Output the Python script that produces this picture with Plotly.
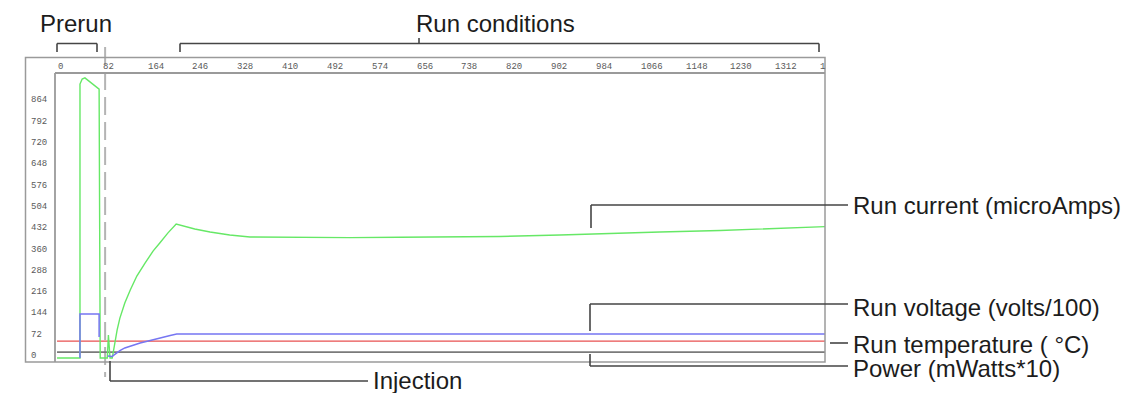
import plotly.graph_objects as go

# ---------------- data ----------------
time_current = [0, 42, 42, 46, 51, 77, 79, 92, 94, 97, 101, 104, 110, 115, 124, 134, 146, 161, 176,
                188, 203, 218, 252, 280, 316, 353, 445, 536, 627, 719, 810, 920, 993, 1103, 1213, 1323, 1405]
run_current = [0, 0, 926, 943, 947, 909, 0, 0, 78, 0, 0, 37, 95, 135, 186, 230, 277, 321, 362,
               389, 423, 453, 436, 426, 416, 409, 407, 407, 408, 409, 411, 416, 419, 426, 431, 438, 444]

time_voltage = [42, 42, 77, 77, None, 93, 101, 104, 110, 115, 124, 139, 152, 165, 179, 194, 207, 219, 1405]
run_voltage = [0, 149, 149, 71, None, 7, 5, 10, 19, 25, 34, 44, 51, 57, 64, 71, 76, 81, 81]

time_temperature = [0, 1405]
run_temperature = [57, 57]

time_power = [0, 1405]
power = [20, 20]

x_tick_values = [0, 82, 164, 246, 328, 410, 492, 574, 656, 738, 820, 902, 984, 1066, 1148, 1230, 1312, 1394]
x_tick_labels = ["0", "82", "164", "246", "328", "410", "492", "574", "656", "738", "820", "902",
                 "984", "1066", "1148", "1230", "1312", "1"]
y_tick_values = [0, 72, 144, 216, 288, 360, 432, 504, 576, 648, 720, 792, 864]
y_tick_labels = [str(v) for v in y_tick_values]

injection_time = 88
x_range = [-3.7, 1405]
y_range = [-13.5, 963.5]

# ---------------- layout helpers (pixel -> paper) ----------------
W, H = 1129, 393
L, R, T, B = 55, 825, 73, 362


def fx(px):
    return (px - L) / (R - L)


def fy(py):
    return (B - py) / (B - T)


fig = go.Figure()
fig.add_trace(go.Scatter(x=time_power, y=power, mode="lines",
                         line=dict(color="#7a7a7a", width=1.6), hoverinfo="skip"))
fig.add_trace(go.Scatter(x=time_temperature, y=run_temperature, mode="lines",
                         line=dict(color="#e85050", width=1.3), hoverinfo="skip"))
fig.add_trace(go.Scatter(x=time_current, y=run_current, mode="lines",
                         line=dict(color="#66e866", width=1.4), hoverinfo="skip"))
fig.add_trace(go.Scatter(x=time_voltage, y=run_voltage, mode="lines", connectgaps=False,
                         line=dict(color="#7676f2", width=1.5), hoverinfo="skip"))

shapes = []
box_col = "#9a9a9a"
# outer box
shapes.append(dict(type="rect", xref="paper", yref="paper", x0=fx(25.5), x1=1, y0=0, y1=fy(57.5),
                   line=dict(color=box_col, width=1.5), fillcolor="rgba(0,0,0,0)", layer="above"))
# inner plot borders
shapes.append(dict(type="line", xref="paper", yref="paper", x0=0, x1=0, y0=0, y1=1,
                   line=dict(color=box_col, width=1.8), layer="above"))
shapes.append(dict(type="line", xref="paper", yref="paper", x0=0, x1=1, y0=1, y1=1,
                   line=dict(color=box_col, width=1.8), layer="above"))
# injection dashed line
shapes.append(dict(type="line", xref="x", yref="paper", x0=injection_time, x1=injection_time,
                   y0=fy(47), y1=fy(377), line=dict(color="#b4b4b4", width=2, dash="18px,7px"),
                   layer="below"))

lead = dict(color="#454545", width=1.6)


def seg(x0, y0, x1, y1):
    shapes.append(dict(type="line", xref="paper", yref="paper", x0=fx(x0), x1=fx(x1),
                       y0=fy(y0), y1=fy(y1), line=lead, layer="above"))


# Prerun bracket
seg(57, 43.5, 97, 43.5)
seg(57, 43.5, 57, 52)
seg(97, 43.5, 97, 52)
# Run conditions bracket
seg(180, 43.5, 819, 43.5)
seg(180, 43.5, 180, 52)
seg(819, 43.5, 819, 52)
seg(419, 38, 419, 43.5)
# Injection leader
seg(110, 361, 110, 381)
seg(110, 381, 368, 381)
# Run current leader
seg(591, 205, 848, 205)
seg(591, 205, 591, 228)
# Run voltage leader
seg(590, 304, 848, 304)
seg(590, 304, 590, 331)
# Run temperature leader
seg(830, 343, 848, 343)
# Power leader
seg(590, 354, 590, 366)
seg(590, 366, 848, 366)

annotations = []
tick_font = dict(family="Liberation Mono, DejaVu Sans Mono, monospace", size=9, color="#5a5a5a")
for v, t in zip(x_tick_values, x_tick_labels):
    annotations.append(dict(x=v, xref="x", y=fy(66.5), yref="paper", text=t, showarrow=False,
                            xanchor="left", yanchor="middle", xshift=-1, font=tick_font))
for v, t in zip(y_tick_values, y_tick_labels):
    annotations.append(dict(x=fx(29), xref="paper", y=v, yref="y", text=t, showarrow=False,
                            xanchor="left", yanchor="middle", yshift=2, font=tick_font))

cap_font = dict(family="Liberation Sans, Arial, sans-serif", size=24, color="#1c1c1c")


def caption(text, px, py, xanchor):
    annotations.append(dict(x=fx(px), xref="paper", y=fy(py), yref="paper", text=text,
                            showarrow=False, xanchor=xanchor, yanchor="middle", font=cap_font))


caption("Prerun", 76, 23, "center")
caption("Run conditions", 495, 23, "center")
caption("Injection", 371, 381, "left")
caption("Run current (microAmps)", 851, 206, "left")
caption("Run voltage (volts/100)", 851, 307, "left")
caption("Run temperature ( °C)", 851, 344, "left")
caption("Power (mWatts*10)", 851, 368, "left")

fig.update_layout(
    width=W, height=H,
    margin=dict(l=L, r=W - R, t=T, b=H - B, pad=0),
    paper_bgcolor="white", plot_bgcolor="white",
    showlegend=False,
    xaxis=dict(range=x_range, visible=False, fixedrange=True),
    yaxis=dict(range=y_range, visible=False, fixedrange=True),
    shapes=shapes,
    annotations=annotations,
)

fig.write_html("out.html", config={"displayModeBar": False})
